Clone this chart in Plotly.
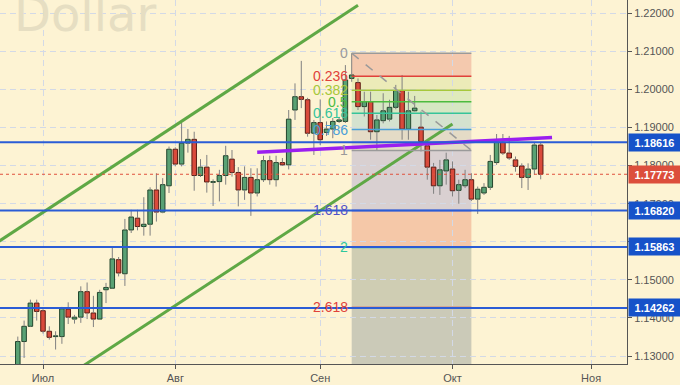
import plotly.graph_objects as go
import pandas as pd

# ---------------- data ----------------
dates = pd.bdate_range("2017-06-27", "2017-11-03")  # trading-day axis (weekends skipped)

opens = [1.1190, 1.1338, 1.1378, 1.1439, 1.1419, 1.1365, 1.1351, 1.1351, 1.1423, 1.1397,
         1.1402, 1.1469, 1.1413, 1.1397, 1.1474, 1.1478, 1.1553, 1.1516, 1.1631, 1.1662,
         1.1640, 1.1646, 1.1736, 1.1678, 1.1747, 1.1843, 1.1804, 1.1859, 1.1869, 1.1774,
         1.1796, 1.1756, 1.1758, 1.1774, 1.1817, 1.1782, 1.1736, 1.1769, 1.1728, 1.1763,
         1.1813, 1.1763, 1.1808, 1.1802, 1.1946, 1.1981, 1.1973, 1.1885, 1.1913, 1.1887,
         1.1896, 1.1916, 1.1916, 1.2029, 1.2018, 1.1955, 1.1968, 1.1889, 1.1918, 1.1922,
         1.1953, 1.1997, 1.1896, 1.1944, 1.1901, 1.1852, 1.1796, 1.1747, 1.1786, 1.1791,
         1.1735, 1.1747, 1.1763, 1.1712, 1.1728, 1.1743, 1.1808, 1.1861, 1.1833, 1.1815,
         1.1799, 1.1769, 1.1791, 1.1854]
highs = [1.1351, 1.1393, 1.1448, 1.1448, 1.1423, 1.1378, 1.1365, 1.1429, 1.1441, 1.1408,
         1.1483, 1.1493, 1.1458, 1.1474, 1.1492, 1.1588, 1.1560, 1.1660, 1.1684, 1.1684,
         1.1717, 1.1743, 1.1780, 1.1767, 1.1850, 1.1848, 1.1913, 1.1896, 1.1889, 1.1817,
         1.1828, 1.1764, 1.1789, 1.1852, 1.1841, 1.1796, 1.1798, 1.1793, 1.1793, 1.1826,
         1.1826, 1.1826, 1.1820, 1.1946, 1.2016, 1.2075, 1.1978, 1.1920, 1.1974, 1.1916,
         1.1925, 1.1928, 1.2064, 1.2095, 1.2029, 1.1994, 1.1994, 1.1933, 1.1990, 1.1973,
         1.2012, 1.2038, 1.1994, 1.1983, 1.1942, 1.1863, 1.1807, 1.1815, 1.1834, 1.1811,
         1.1763, 1.1789, 1.1780, 1.1745, 1.1754, 1.1828, 1.1883, 1.1883, 1.1878, 1.1824,
         1.1806, 1.1806, 1.1861, 1.1861]
lows = [1.1175, 1.1295, 1.1376, 1.1393, 1.1359, 1.1343, 1.1317, 1.1332, 1.1384, 1.1385,
        1.1387, 1.1397, 1.1376, 1.1395, 1.1439, 1.1477, 1.1509, 1.1484, 1.1623, 1.1630,
        1.1616, 1.1616, 1.1653, 1.1675, 1.1728, 1.1798, 1.1798, 1.1834, 1.1734, 1.1770,
        1.1729, 1.1694, 1.1706, 1.1750, 1.1771, 1.1693, 1.1710, 1.1668, 1.1719, 1.1757,
        1.1750, 1.1745, 1.1799, 1.1790, 1.1920, 1.1951, 1.1876, 1.1828, 1.1854, 1.1878,
        1.1872, 1.1912, 1.1912, 1.2020, 1.1946, 1.1929, 1.1868, 1.1841, 1.1911, 1.1916,
        1.1948, 1.1868, 1.1868, 1.1942, 1.1837, 1.1763, 1.1726, 1.1723, 1.1750, 1.1719,
        1.1700, 1.1741, 1.1707, 1.1673, 1.1723, 1.1736, 1.1802, 1.1828, 1.1815, 1.1784,
        1.1741, 1.1736, 1.1776, 1.1764]
closes = [1.1338, 1.1378, 1.1439, 1.1417, 1.1365, 1.1349, 1.1353, 1.1424, 1.1402, 1.1402,
          1.1469, 1.1413, 1.1397, 1.1467, 1.1480, 1.1555, 1.1518, 1.1631, 1.1665, 1.1640,
          1.1646, 1.1736, 1.1678, 1.1750, 1.1843, 1.1804, 1.1859, 1.1869, 1.1774, 1.1796,
          1.1757, 1.1758, 1.1774, 1.1826, 1.1782, 1.1736, 1.1769, 1.1728, 1.1763, 1.1813,
          1.1763, 1.1808, 1.1802, 1.1922, 1.1981, 1.1974, 1.1885, 1.1913, 1.1868, 1.1896,
          1.1916, 1.1920, 1.2025, 1.2038, 1.1955, 1.1968, 1.1889, 1.1920, 1.1944, 1.1953,
          1.1997, 1.1896, 1.1944, 1.1951, 1.1863, 1.1796, 1.1747, 1.1789, 1.1815, 1.1734,
          1.1750, 1.1763, 1.1712, 1.1738, 1.1743, 1.1811, 1.1861, 1.1833, 1.1820, 1.1798,
          1.1769, 1.1791, 1.1854, 1.17773]

month_labels = ["Июл", "Авг", "Сен", "Окт", "Ноя"]
price_ticks = [1.13, 1.14, 1.15, 1.16, 1.17, 1.18, 1.19, 1.20, 1.21, 1.22]
support_levels = [1.18616, 1.16820, 1.15863, 1.14262]
last_price = 1.17773

fib_high, fib_low = 1.2095, 1.1840
fib_levels = [0, 0.236, 0.382, 0.5, 0.618, 0.786, 1, 1.618, 2, 2.618, 3.618]
fib_labels = ["0", "0.236", "0.382", "0.5", "0.618", "0.786", "1", "1.618", "2", "2.618", ""]
fib_start, fib_end = "2017-09-08", "2017-10-05"

channel_upper_x, channel_upper_y = [-3, 54], [1.1601, 1.2221]
channel_lower_x, channel_lower_y = [10, 69], [1.1270, 1.1909]
purple_x, purple_y = [38, 84.8], [1.1835, 1.1874]

# ---------------- styles ----------------
BG = "#fdf3d3"
FONT = "Liberation Sans, Arial, sans-serif"
fib_line_colors = ["#9a9a9a", "#e0413a", "#a6c83a", "#4cbb3f", "#36c49a", "#4a9fd8",
                   "#9a9a9a", "#5252c8", "#2fc89c", "#e0413a", "#9a9a9a"]
fib_zone_colors = ["#f4c9ae", "#ecebb8", "#dfeabc", "#d6e7c3", "#d4e2cf", "#e4dbc6",
                   "#d9d0d1", "#f5c8a8", "#cfcdb3", "#cbcab8"]
UP_FILL, UP_LINE = "#59a174", "#22452d"
DN_FILL, DN_LINE = "#d94a3b", "#5a1c13"
WICK = "#808080"
BLUE = "#2a5cd6"

date_list = [d.strftime("%Y-%m-%d") for d in dates]
pos = {d: i for i, d in enumerate(date_list)}
n = len(opens)
xs = list(range(n))

fig = go.Figure()

# wicks (split so they do not cross bodies)
wx, wy = [], []
for i in xs:
    top, bot = max(opens[i], closes[i]), min(opens[i], closes[i])
    wx += [i, i, None, i, i, None]
    wy += [highs[i], top, None, bot, lows[i], None]
fig.add_trace(go.Scatter(x=wx, y=wy, mode="lines", line=dict(color=WICK, width=1),
                         hoverinfo="skip"))

# bodies
for up in (True, False):
    idx = [i for i in xs if (closes[i] >= opens[i]) == up]
    fig.add_trace(go.Bar(
        x=idx,
        y=[max(abs(closes[i] - opens[i]), 0.00004) for i in idx],
        base=[min(opens[i], closes[i]) for i in idx],
        width=0.72,
        marker=dict(color=UP_FILL if up else DN_FILL,
                    line=dict(color=UP_LINE if up else DN_LINE, width=1)),
        hoverinfo="skip"))

# fib zones
fx0, fx1 = pos[fib_start], pos[fib_end]
fib_prices = [fib_high - l * (fib_high - fib_low) for l in fib_levels]
shapes = []
for k in range(len(fib_levels) - 1):
    shapes.append(dict(type="rect", xref="x", yref="y", x0=fx0, x1=fx1,
                       y0=fib_prices[k], y1=fib_prices[k + 1],
                       fillcolor=fib_zone_colors[k], line=dict(width=0), layer="below"))

# channel lines
fig.add_trace(go.Scatter(x=channel_upper_x, y=channel_upper_y, mode="lines",
                         line=dict(color="#5fa845", width=3), hoverinfo="skip"))
fig.add_trace(go.Scatter(x=channel_lower_x, y=channel_lower_y, mode="lines",
                         line=dict(color="#5fa845", width=3), hoverinfo="skip"))

# fib level lines
for k, l in enumerate(fib_levels[:-1]):
    fig.add_trace(go.Scatter(x=[fx0, fx1], y=[fib_prices[k]] * 2, mode="lines",
                             line=dict(color=fib_line_colors[k], width=1.5), hoverinfo="skip"))
# fib diagonal
fig.add_trace(go.Scatter(x=[fx0, fx1], y=[fib_high, fib_low], mode="lines",
                         line=dict(color="#9a9a9a", width=1.5, dash="dash"), hoverinfo="skip"))

# horizontal support/resistance lines
for lv in support_levels:
    shapes.append(dict(type="line", xref="paper", yref="y", x0=0, x1=1, y0=lv, y1=lv,
                       line=dict(color=BLUE, width=2), layer="above"))
shapes.append(dict(type="line", xref="paper", yref="y", x0=0, x1=1, y0=last_price, y1=last_price,
                   line=dict(color="#e0503c", width=1, dash="dot"), layer="above"))

# purple trend line
fig.add_trace(go.Scatter(x=purple_x, y=purple_y, mode="lines",
                         line=dict(color="#9a1ef0", width=3.5), hoverinfo="skip"))

annotations = []
# fib labels
for k, l in enumerate(fib_levels):
    if not fib_labels[k]:
        continue
    annotations.append(dict(x=fx0, y=fib_prices[k], xref="x", yref="y", text=fib_labels[k],
                            showarrow=False, xanchor="right", yanchor="middle", xshift=-2,
                            font=dict(family=FONT, size=14, color=fib_line_colors[k])))
# price boxes
for lv in support_levels:
    annotations.append(dict(x=1, y=lv, xref="paper", yref="y", text=f"<b>{lv:.5f}</b>",
                            showarrow=False, xanchor="left", yanchor="middle", xshift=1,
                            bgcolor="#1652c9", width=47, height=13, borderpad=2,
                            font=dict(family=FONT, size=11, color="white")))
annotations.append(dict(x=1, y=last_price, xref="paper", yref="y", text=f"<b>{last_price:.5f}</b>",
                        showarrow=False, xanchor="left", yanchor="middle", xshift=1,
                        bgcolor="#dc4e3c", width=47, height=13, borderpad=2,
                        font=dict(family=FONT, size=11, color="white")))
# watermark
annotations.append(dict(x=0, y=1, xref="paper", yref="paper", text="Dollar", showarrow=False,
                        xanchor="left", yanchor="top", xshift=12, yshift=16,
                        font=dict(family="DejaVu Sans", size=48, color="#e6dec2")))

month_pos = []
seen = set()
for d in dates:
    key = (d.year, d.month)
    if key not in seen:
        seen.add(key)
        if d.month != 6:
            month_pos.append(pos[d.strftime("%Y-%m-%d")])

fig.update_layout(
    width=680, height=385,
    margin=dict(l=0, r=53, t=0, b=21),
    paper_bgcolor=BG, plot_bgcolor=BG,
    showlegend=False, barmode="overlay",
    font=dict(family=FONT, size=11, color="#555555"),
    shapes=shapes, annotations=annotations,
    xaxis=dict(range=[-2.825, 96.7], tickvals=month_pos, ticktext=month_labels,
               showgrid=True, gridcolor="#d3d9e6", griddash="6px,4px", gridwidth=1,
               zeroline=False, showline=True, linecolor="#555555", linewidth=1,
               ticks="outside", ticklen=4, tickcolor="#555555",
               tickfont=dict(family=FONT, size=11, color="#555555")),
    yaxis=dict(range=[1.12790, 1.22349], side="right", tickvals=price_ticks,
               tickformat=".5f", showgrid=True, gridcolor="#d3d9e6", griddash="6px,4px",
               gridwidth=1, zeroline=False, showline=True, linecolor="#555555", linewidth=1,
               ticks="outside", ticklen=4, tickcolor="#555555",
               tickfont=dict(family=FONT, size=11, color="#555555")),
)

fig.write_html("out.html")
